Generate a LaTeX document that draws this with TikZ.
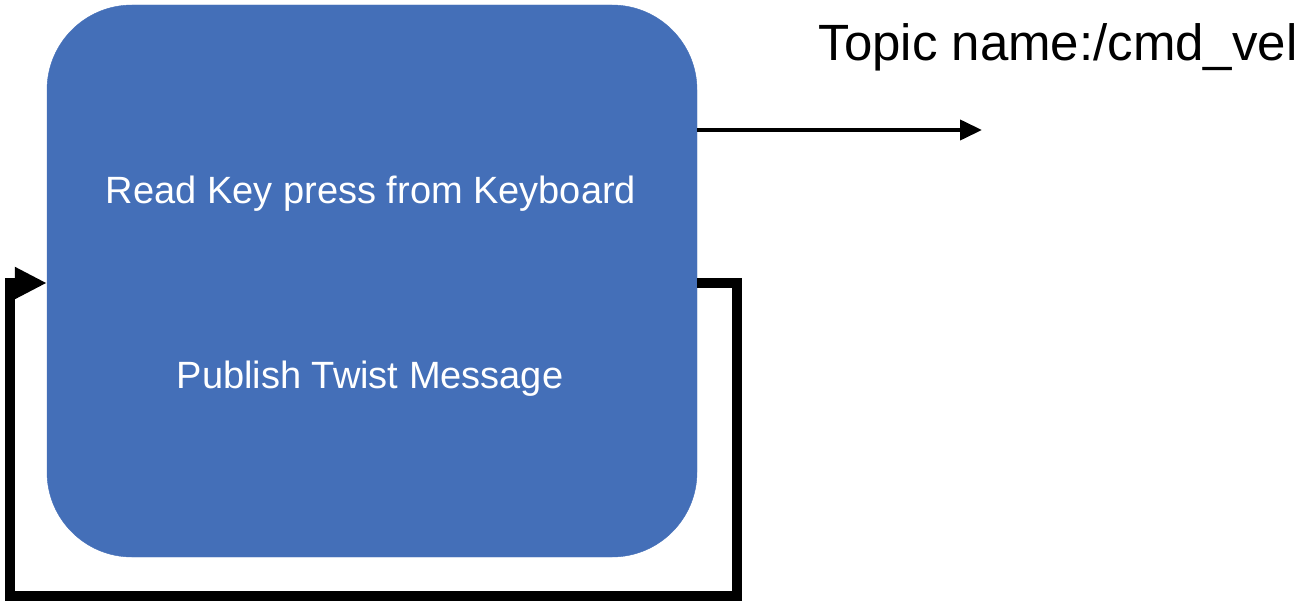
\documentclass[tikz,border=0pt]{standalone}
\usepackage{fontspec}
\setmainfont{Liberation Sans}
\usetikzlibrary{arrows.meta}
\definecolor{boxblue}{RGB}{68,111,184}
\tikzset{
  blockbox/.style={fill=boxblue, draw=boxblue, rounded corners=85pt, minimum width=650pt, minimum height=552pt, inner sep=0pt},
  intext/.style={text=white, font=\fontsize{38}{44}\selectfont, anchor=base, inner sep=0pt},
  topictext/.style={text=black, font=\fontsize{51}{58}\selectfont, anchor=base, inner sep=0pt},
  thinarrow/.style={line width=4pt, -{Triangle[length=22pt,width=20pt]}},
  looparrow/.style={line width=10pt, -{Triangle[length=32pt,width=30pt]}}
}
\begin{document}
\begin{tikzpicture}[x=1pt,y=-1pt]
\useasboundingbox (0,0) rectangle (1300,607);
\node[blockbox] (box) at (372,281) {};
\node[intext] (t1) at (371,203) {Read Key press from Keyboard};
\node[intext] (t2) at (370,388) {Publish Twist Message};
\node[topictext] (topic) at (1058,61) {Topic name:/cmd\_vel};
\coordinate (topend) at (982,130);
\draw[thinarrow] (box.east |- topend) -- (topend);
\coordinate (a) at (737,283);
\coordinate (b) at (737,596);
\coordinate (c) at (10,596);
\coordinate (d) at (10,283);
\draw[looparrow] (box.east |- a) -- (a) -- (b) -- (c) -- (d) -- (box.west |- d);
\end{tikzpicture}
\end{document}
